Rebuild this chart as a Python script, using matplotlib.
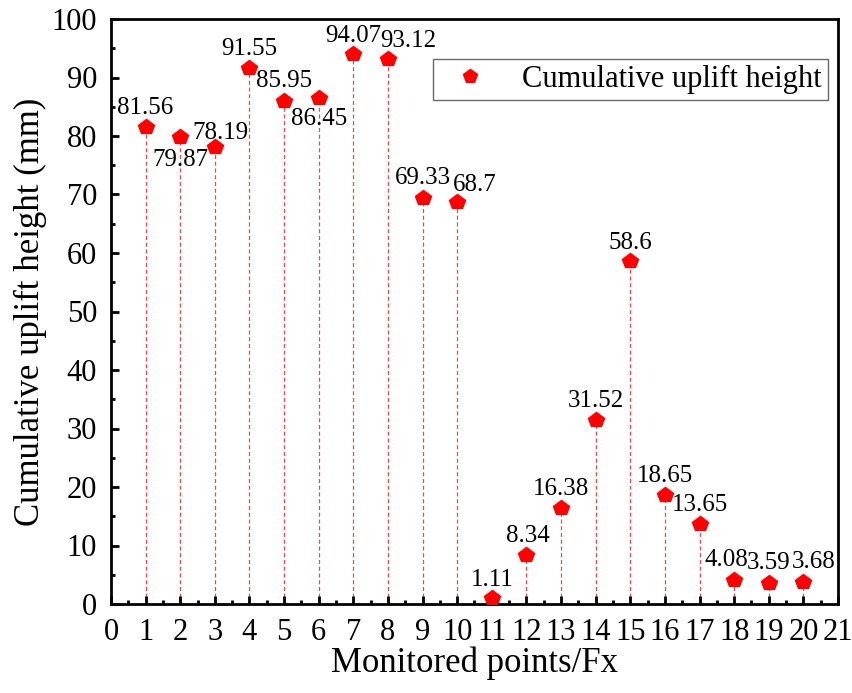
import matplotlib
matplotlib.use("Agg")
import matplotlib.pyplot as plt
from matplotlib.ticker import MultipleLocator

points = list(range(1, 21))
heights = [81.56, 79.87, 78.19, 91.55, 85.95, 86.45, 94.07, 93.12, 69.33, 68.7,
           1.11, 8.34, 16.38, 31.52, 58.6, 18.65, 13.65, 4.08, 3.59, 3.68]
labels = ["81.56", "79.87", "78.19", "91.55", "85.95", "86.45", "94.07", "93.12", "69.33", "68.7",
          "1.11", "8.34", "16.38", "31.52", "58.6", "18.65", "13.65", "4.08", "3.59", "3.68"]

# label offsets in pixels (dx, dy); negative dy => label placed below the marker
label_offsets_px = [(0, 13), (0, -12), (6, 8), (0, 13), (0, 14), (0, -10), (0, 12), (20, 12),
                    (0, 14), (18, 11), (0, 12), (1, 13), (0, 13), (0, 13), (0, 12), (0, 13),
                    (0, 13), (-8, 14), (0, 14), (10, 14)]

plt.rcParams['font.family'] = ['Liberation Serif', 'DejaVu Serif']
fig = plt.figure(figsize=(8.53, 6.93), dpi=100)
ax = fig.add_axes([111/853, 1 - 604/693, (838-111)/853, (604-19)/693])

ax.vlines(points, 0, heights, colors='#ea4a4f', linestyles=(0, (3.2, 2.2)), linewidth=0.9, zorder=1)
ax.plot(points, heights, linestyle='none', marker='p', markersize=11.5, color='red',
        markeredgecolor='red', label='Cumulative uplift height', zorder=3)

px2pt = 72 / 100
for x, y, t, (dx, dy) in zip(points, heights, labels, label_offsets_px):
    if dy < 0:
        ax.annotate(t, (x, y), xytext=(dx * px2pt, dy * px2pt), textcoords='offset points',
                    ha='center', va='top', fontsize=18)
    else:
        ax.annotate(t, (x, y), xytext=(dx * px2pt, dy * px2pt), textcoords='offset points',
                    ha='center', va='baseline', fontsize=18)

ax.set_xlim(0, 21)
ax.set_ylim(0, 100)
ax.xaxis.set_major_locator(MultipleLocator(1))
ax.xaxis.set_minor_locator(MultipleLocator(0.5))
ax.yaxis.set_major_locator(MultipleLocator(10))
ax.yaxis.set_minor_locator(MultipleLocator(5))
ax.tick_params(which='both', direction='in', top=False, right=False, width=2)
ax.tick_params(which='major', length=5.5, labelsize=22)
ax.tick_params(which='minor', length=3)
ax.tick_params(axis='x', which='major', pad=10)
ax.tick_params(axis='y', which='major', pad=10)
for s in ax.spines.values():
    s.set_linewidth(2)

ax.set_xlabel('Monitored points/Fx', fontsize=25, labelpad=0)
ax.set_ylabel('Cumulative uplift height (mm)', fontsize=25, labelpad=3)

leg = ax.legend(loc='upper right', bbox_to_anchor=(0.986, 0.932), borderaxespad=0,
                fontsize=22, frameon=True, fancybox=False, edgecolor='#444444',
                handletextpad=0.7, borderpad=0.2, markerscale=0.9)
leg.get_frame().set_linewidth(1.0)

fig.savefig('out.png', dpi=100)
